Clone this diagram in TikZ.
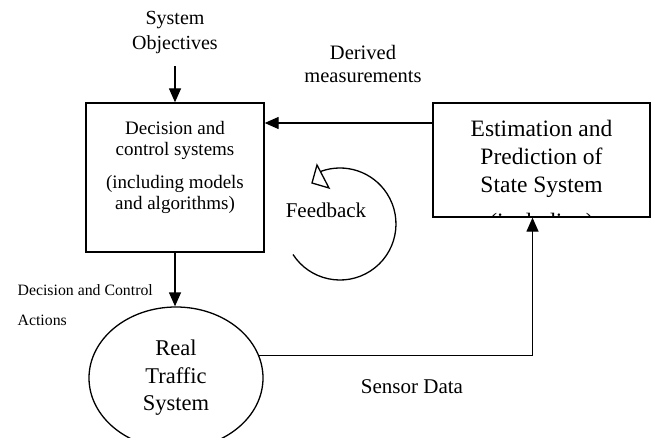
\documentclass[tikz,border=0pt]{standalone}
\usepackage{fontspec}
\setmainfont{Liberation Serif}
\usetikzlibrary{arrows.meta}
\usetikzlibrary{positioning}
\usetikzlibrary{shapes.geometric}

\begin{document}
\begin{tikzpicture}[x=1pt,y=-1pt,line width=1.3pt,
  box/.style={draw,rectangle,inner sep=0pt},
  txt/.style={align=center,inner sep=0pt},
  arr/.style={-{Triangle[length=14pt,width=12pt]}}]
  \useasboundingbox (0,0) rectangle (652,438);
  \node[box,minimum width=178pt,minimum height=149pt] (dec) at (175,177.5){};
  \node[txt,anchor=north,font=\fontsize{19}{21}\selectfont] (dectext) at (175,121){Decision and\\control systems\\[12pt](including models\\and algorithms)};
  \node[box,minimum width=217pt,minimum height=114pt] (est) at (541.5,160){};
  \begin{scope}
    \clip (est.north west) rectangle (est.south east);
    \node[txt,anchor=north,font=\fontsize{23.5}{28}\selectfont] (esttext) at (541.5,120){Estimation and\\Prediction of\\State System\\[9pt](including)};
  \end{scope}
  \node[draw,ellipse,txt,minimum width=174pt,minimum height=142pt,font=\fontsize{22.5}{27.5}\selectfont] (rts) at (176,378){Real\\Traffic\\System};
  \node[txt,font=\fontsize{20}{25}\selectfont] (sysobj) at (175,32.5){System\\Objectives};
  \node[txt,font=\fontsize{20.5}{23}\selectfont] (derived) at (363,63.5){Derived\\measurements};
  \node[txt,font=\fontsize{21}{25}\selectfont] (feedback) at (326,210){Feedback};
  \node[txt,font=\fontsize{21}{25}\selectfont] (sensor) at (412,387){Sensor Data};
  \node[txt,align=left,anchor=west,font=\fontsize{15.8}{30}\selectfont] (actions) at (17,305){Decision and Control\\Actions};
  % connectors
  \draw[arr,shorten <=12pt](sysobj.south)--(dec.north);
  \draw[arr]([yshift=37pt]est.west)--([yshift=37pt]est.west -| dec.east);
  \draw[arr](dec.south)--(dec.south |- rts.north);
  \draw[arr](rts.15)-|([xshift=-9pt]est.south);
  % feedback loop
  \coordinate (loopstart) at (293,254.5);
  \draw (loopstart) arc[start angle=147,end angle=-110,radius=56];
  \draw[fill=white](317,165)--(312,183)--(329,188)--cycle;
\end{tikzpicture}
\end{document}
